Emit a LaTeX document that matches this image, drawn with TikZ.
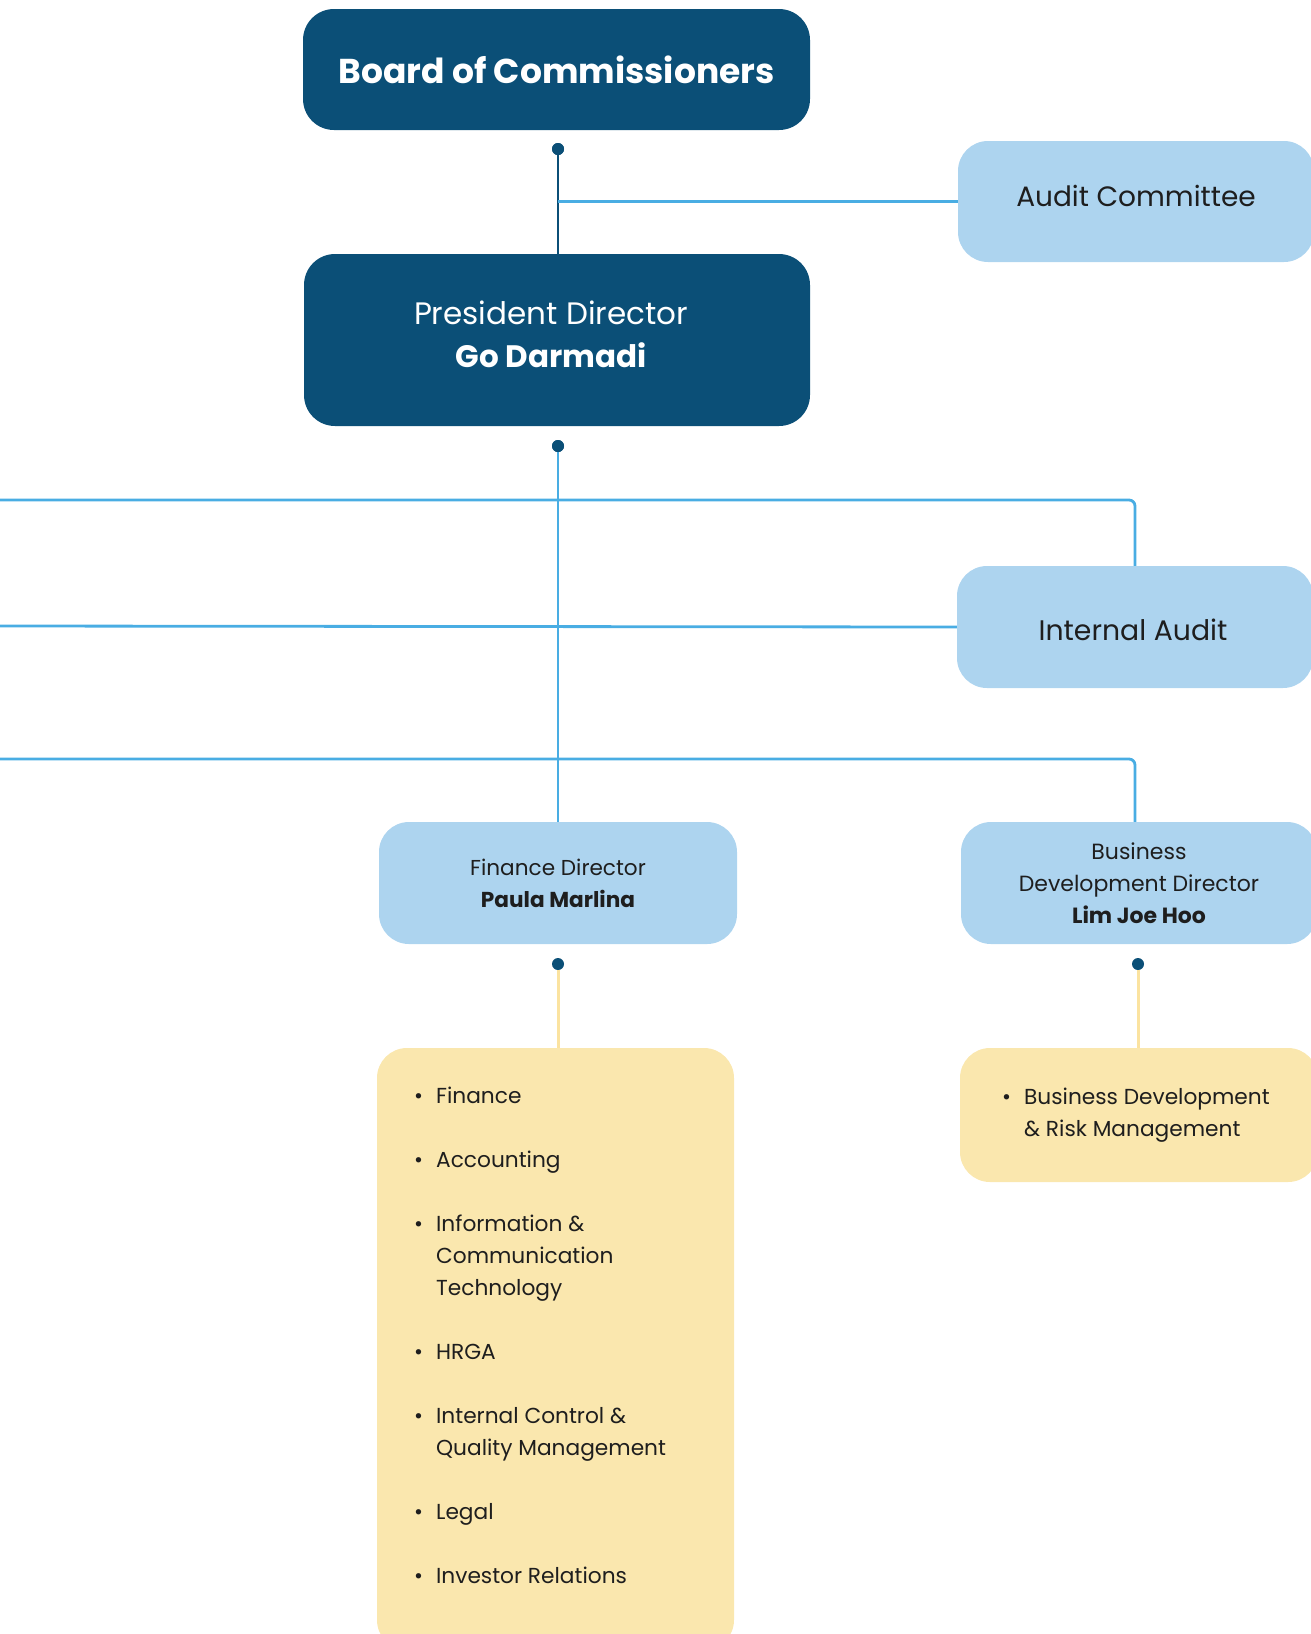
\documentclass[tikz,border=0pt]{standalone}
\usepackage{fontspec}
\setmainfont{Poppins}
\usetikzlibrary{positioning}

\definecolor{navy}{RGB}{11,79,119}
\definecolor{skyfill}{RGB}{173,212,239}
\definecolor{skyline}{RGB}{73,173,227}
\definecolor{sandfill}{RGB}{250,231,174}
\definecolor{sandline}{RGB}{251,227,160}
\definecolor{inkdark}{RGB}{30,30,30}

\begin{document}
\begin{tikzpicture}[
        x=1pt, y=-1pt,
        topbox/.style={rectangle, fill=navy, text=white, rounded corners=31pt, text centered, align=center, inner sep=0pt},
        sidebox/.style={rectangle, fill=skyfill, text=inkdark, rounded corners=30pt, align=center, inner sep=0pt, minimum width=356pt},
        listbox/.style={rectangle, fill=sandfill, rounded corners=30pt, inner sep=0pt},
        boxtitle/.style={align=center, inner sep=0pt},
        dot/.style={circle, fill=navy, inner sep=0pt, minimum size=12pt},
        navyline/.style={draw=navy, line width=2.4pt},
        skyconn/.style={draw=skyline, line width=2.8pt},
        sandconn/.style={draw=sandline, line width=3pt}
    ]
        \useasboundingbox (0,0) rectangle (1310,1634);

        % Top level boxes
        \node[topbox, minimum width=507pt, minimum height=121pt, font=\fontsize{34.5}{40}\selectfont\bfseries] (board) at (556.5,69.5) {Board of Commissioners};
        \node[topbox, minimum width=506pt, minimum height=172pt] (pres) at (557,340) {};
        \node[boxtitle, text=white, font=\fontsize{31}{43}\selectfont] (prestitle) at (551,334) {President Director\\\textbf{Go Darmadi}};

        % Boxes on the right
        \node[sidebox, minimum height=121pt] (audcom) at (1136,201.5) {};
        \node[boxtitle, text=inkdark, font=\fontsize{28}{32}\selectfont] (audcomtitle) at (1136,196) {Audit Committee};
        \node[sidebox, minimum height=122pt] (intaud) at (1135,627) {};
        \node[boxtitle, text=inkdark, font=\fontsize{28.3}{32}\selectfont] (intaudtitle) at (1133,630) {Internal Audit};

        % Directors
        \node[sidebox, minimum width=358pt, minimum height=122pt, font=\fontsize{21.6}{32}\selectfont] (findir) at (558,883) {Finance Director\\\textbf{Paula Marlina}};
        \node[sidebox, minimum height=122pt, font=\fontsize{22}{32}\selectfont] (bizdir) at (1139,883) {Business\\Development Director\\\textbf{Lim Joe Hoo}};

        % Units under the directors
        \node[listbox, minimum width=357pt, minimum height=602pt] (finlist) at (555.5,1349) {};
        \node[listbox, minimum width=358pt, minimum height=134pt] (bizlist) at (1139,1115) {};
        \node[anchor=base west, inner sep=0pt, text=inkdark, font=\fontsize{21.7}{32}\selectfont] (finitems) at (414,1103) {%
            \begin{tabular}[t]{@{}l@{\hspace{13pt}}l@{}}
            \textbullet & Finance\\[32pt]
            \textbullet & Accounting\\[32pt]
            \textbullet & Information \&\\
                        & Communication\\
                        & Technology\\[32pt]
            \textbullet & HRGA\\[32pt]
            \textbullet & Internal Control \&\\
                        & Quality Management\\[32pt]
            \textbullet & Legal\\[32pt]
            \textbullet & Investor Relations
            \end{tabular}};
        \node[anchor=base west, inner sep=0pt, text=inkdark, font=\fontsize{21.7}{32}\selectfont] (bizitems) at (1002,1104) {%
            \begin{tabular}[t]{@{}l@{\hspace{13pt}}l@{}}
            \textbullet & Business Development\\
                        & \& Risk Management
            \end{tabular}};

        % Dots
        \node[dot] (boarddot) at (558,149) {};
        \node[dot] (presdot) at (558,446) {};
        \node[dot] (findot) at (558,964) {};
        \node[dot] (bizdot) at (1138,964) {};

        % Loose ends on the left edge
        \coordinate (westa) at (0,500);
        \coordinate (westb) at (0,626);
        \coordinate (westc) at (0,759);

        % Connections
        \draw[navyline] (boarddot) -- (pres.north -| boarddot);
        \draw[skyconn] (boarddot |- audcom.west) -- (audcom.west);
        \draw[skyconn, line width=2pt] (presdot) -- (findir.north -| presdot);
        \draw[skyconn, rounded corners=6pt] (westa) -| (intaud.north);
        \draw[skyconn] (westb) -- (intaud.west);
        \draw[skyconn, rounded corners=6pt] (westc) -| (bizdir.north -| intaud.north);
        \draw[sandconn] (findot) -- (finlist.north -| findot);
        \draw[sandconn] (bizdot) -- (bizlist.north -| bizdot);
        \node[dot] at (boarddot) {};
        \node[dot] at (presdot) {};
    \end{tikzpicture}
\end{document}
